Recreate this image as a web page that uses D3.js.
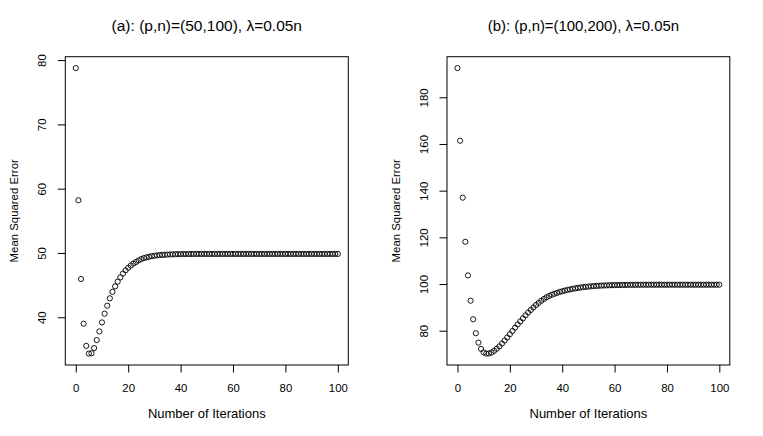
<!DOCTYPE html>
<html>
<head>
<meta charset="utf-8">
<script src="https://cdn.jsdelivr.net/npm/d3@7"></script>
<style>
  html, body { margin: 0; padding: 0; background: #fff; }
  svg { display: block; }
  text { font-family: "Liberation Sans", Arial, Helvetica, sans-serif; fill: #000; }
</style>
</head>
<body>
<svg id="chart" width="763" height="436"></svg>
<script>
// ---- data ----
const iterations = d3.range(0, 101);
const xTicks = [0, 20, 40, 60, 80, 100];

const titleA = "(a): (p,n)=(50,100), \u03bb=0.05n";
const titleB = "(b): (p,n)=(100,200), \u03bb=0.05n";
const xLabel = "Number of Iterations";
const yLabel = "Mean Squared Error";

const yTicksA = [40, 50, 60, 70, 80];
const yTicksB = [80, 100, 120, 140, 160, 180];

const mseA = [
  78.75, 58.2, 45.95, 39.0, 35.55, 34.35, 34.4, 35.2, 36.45, 37.8,
  39.2, 40.55, 41.8, 42.95, 43.95, 44.8, 45.55, 46.2, 46.8, 47.3,
  47.7, 48.05, 48.35, 48.6, 48.85, 49.05, 49.2, 49.32, 49.42, 49.5,
  49.57, 49.62, 49.67, 49.7, 49.73, 49.75, 49.77, 49.79, 49.8, 49.81,
  49.82, 49.83, 49.83, 49.84, 49.84, 49.85, 49.85, 49.85, 49.85, 49.85,
  49.85, 49.85, 49.85, 49.85, 49.85, 49.85, 49.85, 49.85, 49.85, 49.85,
  49.85, 49.85, 49.85, 49.85, 49.85, 49.85, 49.85, 49.85, 49.85, 49.85,
  49.85, 49.85, 49.85, 49.85, 49.85, 49.85, 49.85, 49.85, 49.85, 49.85,
  49.85, 49.85, 49.85, 49.85, 49.85, 49.85, 49.85, 49.85, 49.85, 49.85,
  49.85, 49.85, 49.85, 49.85, 49.85, 49.85, 49.85, 49.85, 49.85, 49.85,
  49.85
];

const mseB = [
  192.5, 161.4, 137.0, 118.1, 103.7, 92.85, 84.9, 78.9, 74.9, 72.2,
  70.7, 70.2, 70.25, 70.7, 71.4, 72.3, 73.3, 74.5, 75.8, 77.1,
  78.5, 79.9, 81.3, 82.7, 84.0, 85.3, 86.6, 87.8, 88.9, 90.0,
  91.0, 91.9, 92.8, 93.6, 94.3, 94.9, 95.4, 95.8, 96.2, 96.6,
  96.9, 97.2, 97.5, 97.7, 97.95, 98.15, 98.35, 98.5, 98.65, 98.8,
  98.9, 99.0, 99.1, 99.2, 99.27, 99.33, 99.38, 99.43, 99.47, 99.5,
  99.53, 99.56, 99.58, 99.6, 99.62, 99.64, 99.65, 99.66, 99.67, 99.68,
  99.69, 99.7, 99.7, 99.7, 99.7, 99.7, 99.7, 99.7, 99.7, 99.7,
  99.7, 99.7, 99.7, 99.7, 99.7, 99.7, 99.7, 99.7, 99.7, 99.7,
  99.7, 99.7, 99.7, 99.7, 99.7, 99.7, 99.7, 99.7, 99.7, 99.7,
  99.7
];

// ---- drawing ----
const svg = d3.select("#chart");
const plotTop = 56.7, plotBottom = 365;

function rExtend(vals) {
  const [mn, mx] = d3.extent(vals);
  const r = mx - mn;
  return [mn - 0.04 * r, mx + 0.04 * r];
}

function panel(left, right, values, yTicks, title, titleSize, titleShift) {
  const g = svg.append("g");
  const x = d3.scaleLinear().domain(rExtend(iterations)).range([left, right]);
  const y = d3.scaleLinear().domain(rExtend(values)).range([plotBottom, plotTop]);

  // x axis
  const gx = g.append("g").attr("transform", `translate(0,${plotBottom})`)
    .call(d3.axisBottom(x).tickValues(xTicks).tickSize(7.5).tickSizeOuter(0));
  gx.select(".domain").remove();
  gx.selectAll(".tick line").attr("stroke", "#000").attr("stroke-width", 1);
  gx.selectAll(".tick text")
    .attr("y", 26.5).attr("dy", 0)
    .style("font-size", "11.4px")
    .style("font-family", '"Liberation Sans", Arial, sans-serif')
    .attr("fill", "#000");

  // y axis
  const gy = g.append("g").attr("transform", `translate(${left},0)`)
    .call(d3.axisLeft(y).tickValues(yTicks).tickSize(7.5).tickSizeOuter(0));
  gy.select(".domain").remove();
  gy.selectAll(".tick line").attr("stroke", "#000").attr("stroke-width", 1);
  gy.selectAll(".tick text")
    .attr("x", 0).attr("dy", 0)
    .attr("text-anchor", "middle")
    .attr("transform", "translate(-19,0) rotate(-90)")
    .style("font-size", "11.4px")
    .style("font-family", '"Liberation Sans", Arial, sans-serif')
    .attr("fill", "#000");

  // box
  g.append("rect")
    .attr("x", left).attr("y", plotTop)
    .attr("width", right - left).attr("height", plotBottom - plotTop)
    .attr("fill", "none").attr("stroke", "#000").attr("stroke-width", 1);

  // points
  g.append("g").selectAll("circle")
    .data(iterations)
    .join("circle")
    .attr("cx", d => x(d))
    .attr("cy", (d, i) => y(values[i]))
    .attr("r", 2.6)
    .attr("fill", "none")
    .attr("stroke", "#000")
    .attr("stroke-width", 0.9);

  const cx = (left + right) / 2;
  g.append("text").attr("x", cx + titleShift).attr("y", 31)
    .attr("text-anchor", "middle").style("font-size", titleSize + "px").text(title);
  g.append("text").attr("x", cx).attr("y", 417.7)
    .attr("text-anchor", "middle").style("font-size", "13px").text(xLabel);
  g.append("text")
    .attr("transform", `translate(${left - 47.5},${(plotTop + plotBottom) / 2}) rotate(-90)`)
    .attr("text-anchor", "middle").style("font-size", "11.4px").text(yLabel);
}

panel(65.3, 348.3, mseA, yTicksA, titleA, 15.5, 0);
panel(447, 729.8, mseB, yTicksB, titleB, 14.9, -5);
</script>
</body>
</html>
